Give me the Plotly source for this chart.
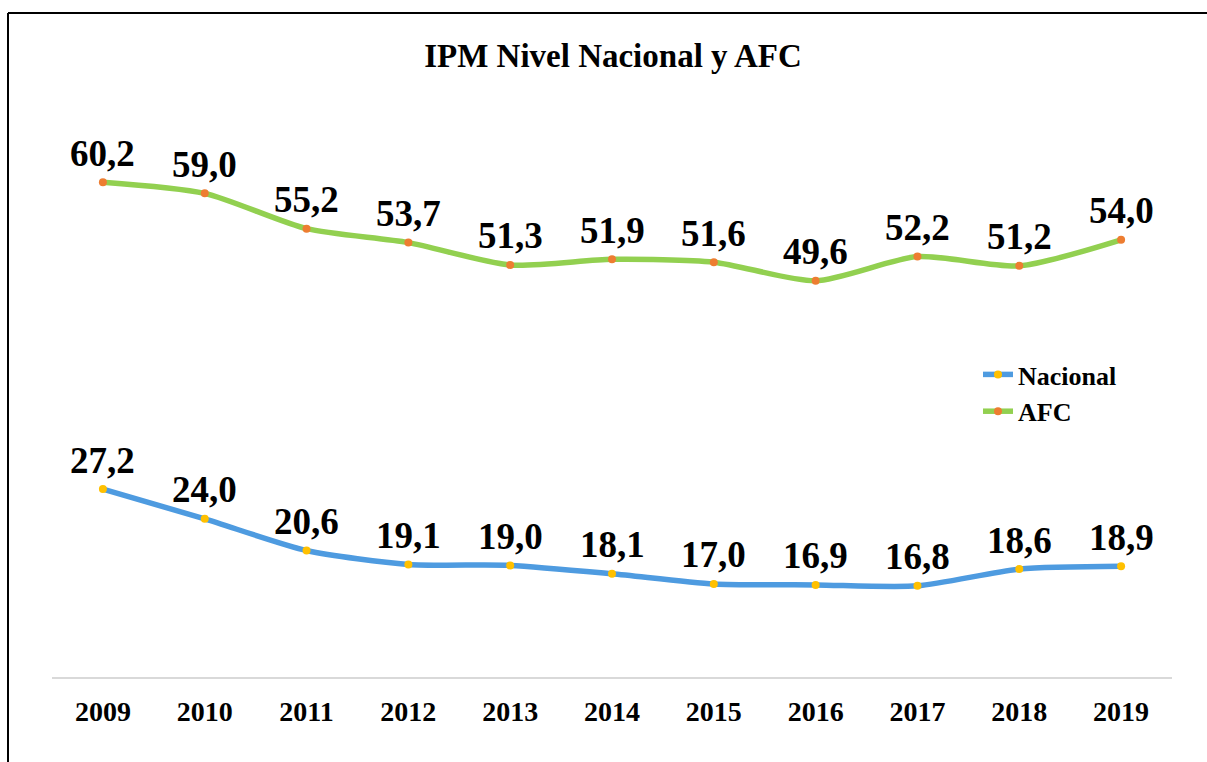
import plotly.graph_objects as go

years = ["2009", "2010", "2011", "2012", "2013", "2014", "2015", "2016", "2017", "2018", "2019"]
nacional = [27.2, 24.0, 20.6, 19.1, 19.0, 18.1, 17.0, 16.9, 16.8, 18.6, 18.9]
afc = [60.2, 59.0, 55.2, 53.7, 51.3, 51.9, 51.6, 49.6, 52.2, 51.2, 54.0]

W, H = 1207, 762
ML, MR, MT, MB = 52, 35, 91, 85
PW, PH = W - ML - MR, H - MT - MB
SERIF = "Liberation Serif, Times New Roman, serif"


def fmt(v):
    return f"{v:.1f}".replace(".", ",")


def px_x(p):
    return (p - ML) / PW


def px_y(p):
    return (H - MB - p) / PH


fig = go.Figure()
fig.add_trace(go.Scatter(
    x=years, y=nacional, name="Nacional", mode="lines+markers",
    line=dict(color="#4E9BE0", width=5.5, shape="spline", smoothing=0.7),
    marker=dict(color="#FFC000", size=8),
))
fig.add_trace(go.Scatter(
    x=years, y=afc, name="AFC", mode="lines+markers",
    line=dict(color="#92D050", width=5.5, shape="spline", smoothing=0.7),
    marker=dict(color="#ED7D31", size=8),
))

annotations = []
for series in (nacional, afc):
    for i, yv in enumerate(series):
        annotations.append(dict(
            x=i, y=yv, xref="x", yref="y", text="<b>" + fmt(yv) + "</b>",
            showarrow=False, xanchor="center", yanchor="middle", yshift=29,
            font=dict(family=SERIF, size=37, color="#000000"),
        ))

shapes = [
    dict(type="line", xref="paper", yref="paper",
         x0=px_x(8), y0=px_y(13), x1=px_x(W + 20), y1=px_y(13),
         line=dict(color="#000000", width=2)),
    dict(type="line", xref="paper", yref="paper",
         x0=px_x(8), y0=px_y(13), x1=px_x(8), y1=px_y(H + 20),
         line=dict(color="#000000", width=2)),
]

fig.update_layout(
    width=W, height=H,
    margin=dict(l=ML, r=MR, t=MT, b=MB),
    paper_bgcolor="#FFFFFF", plot_bgcolor="#FFFFFF",
    title=dict(text="<b>IPM Nivel Nacional y AFC</b>", x=613 / W, xref="container",
               xanchor="center", y=1 - 55 / H, yref="container", yanchor="middle",
               font=dict(family=SERIF, size=33, color="#000000")),
    xaxis=dict(type="category", range=[-0.5, 10.5], showgrid=False, zeroline=False,
               showline=True, linecolor="#D9D9D9", linewidth=2,
               ticks="", ticklabelstandoff=8,
               tickfont=dict(family=SERIF, size=28, color="#000000", weight="bold")),
    yaxis=dict(range=[7, 70], visible=False, showgrid=False, zeroline=False),
    legend=dict(x=px_x(978), y=px_y(393), xanchor="left", yanchor="middle",
                bgcolor="rgba(0,0,0,0)", borderwidth=0, tracegroupgap=0,
                font=dict(family=SERIF, size=26, color="#000000", weight="bold")),
    annotations=annotations,
    shapes=shapes,
    showlegend=True,
)

fig.write_html("out.html", config={"displayModeBar": False},
               post_script="document.body.style.margin='0';")
